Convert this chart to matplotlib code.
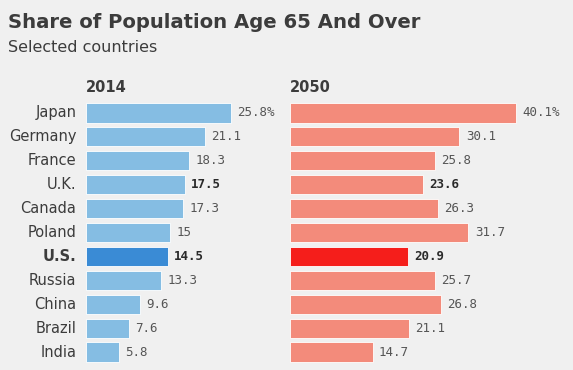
import matplotlib.pyplot as plt

countries = ["Japan", "Germany", "France", "U.K.", "Canada", "Poland",
             "U.S.", "Russia", "China", "Brazil", "India"]
share_2014 = [25.8, 21.1, 18.3, 17.5, 17.3, 15, 14.5, 13.3, 9.6, 7.6, 5.8]
share_2050 = [40.1, 30.1, 25.8, 23.6, 26.3, 31.7, 20.9, 25.7, 26.8, 21.1, 14.7]
labels_2014 = ["25.8%", "21.1", "18.3", "17.5", "17.3", "15", "14.5", "13.3", "9.6", "7.6", "5.8"]
labels_2050 = ["40.1%", "30.1", "25.8", "23.6", "26.3", "31.7", "20.9", "25.7", "26.8", "21.1", "14.7"]
bold_rows = {"U.K.", "U.S."}

BG = "#f0f0f0"
TEXT = "#3c3c3c"

fig = plt.figure(figsize=(5.73, 3.70), dpi=100, facecolor=BG)

W, H = 573, 370
row_top, row_bot = 101, 364


def make_axes(x0, x1, xmax):
    ax = fig.add_axes([x0 / W, 1 - row_bot / H, (x1 - x0) / W, (row_bot - row_top) / H])
    ax.set_facecolor(BG)
    ax.set_xlim(0, xmax)
    ax.set_ylim(len(countries) - 0.5, -0.5)
    ax.axis("off")
    return ax


ax1 = make_axes(86, 280, 194 / 5.63)
ax2 = make_axes(290, 573, 283 / 5.63)

for ax, values, labels, base, hi in [
    (ax1, share_2014, labels_2014, "#85bde3", "#3a8bd5"),
    (ax2, share_2050, labels_2050, "#f38b7b", "#f51e1b"),
]:
    colors = [hi if c == "U.S." else base for c in countries]
    ax.barh(range(len(countries)), values, height=0.8, color=colors,
            edgecolor="#ffffff", linewidth=0.6)
    for i, (v, lab) in enumerate(zip(values, labels)):
        bold = countries[i] in bold_rows
        ax.annotate(lab, (v, i), xytext=(4.5, 0), textcoords="offset points",
                    ha="left", va="center", fontsize=9,
                    family="DejaVu Sans Mono", color="#2a2a2a" if bold else "#555555",
                    fontweight="bold" if bold else "normal")

for i, c in enumerate(countries):
    ax1.annotate(c, (0, i), xytext=(-7, 0), textcoords="offset points",
                 ha="right", va="center", fontsize=10.5, color=TEXT,
                 fontweight="bold" if c == "U.S." else "normal")

fig.text(8 / W, 1 - 22 / H, "Share of Population Age 65 And Over", fontsize=14.1,
         fontweight="bold", color=TEXT, va="center", ha="left")
fig.text(8 / W, 1 - 48 / H, "Selected countries", fontsize=11.5,
         color=TEXT, va="center", ha="left")
fig.text(86 / W, 1 - 87 / H, "2014", fontsize=10.5, fontweight="bold",
         color=TEXT, va="center", ha="left")
fig.text(290 / W, 1 - 87 / H, "2050", fontsize=10.5, fontweight="bold",
         color=TEXT, va="center", ha="left")

fig.savefig("out.png", dpi=100, facecolor=BG)
